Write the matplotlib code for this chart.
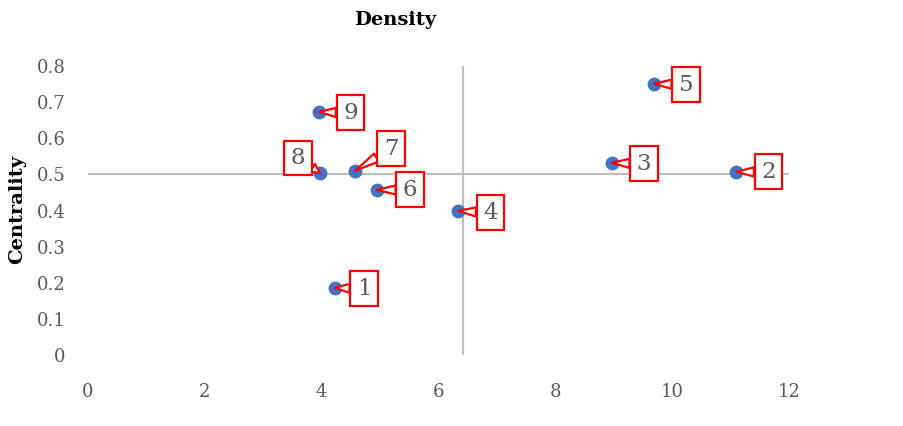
import numpy as np
import matplotlib
matplotlib.use("Agg")
import matplotlib.pyplot as plt

# valeurs
labels = ["1", "2", "3", "4", "5", "6", "7", "8", "9"]
density = [4.23, 11.10, 8.97, 6.34, 9.69, 4.95, 4.57, 3.97, 3.96]
centrality = [0.186, 0.507, 0.532, 0.399, 0.751, 0.457, 0.510, 0.504, 0.673]

# decalage des bulles (pixels, vers la droite / vers le haut)
label_offsets = [(29, -1), (32, 0), (32, -1), (32, -2), (32, -1),
                 (33, 0), (36, 22), (-22, 15), (31, -1)]

GRAY = "#595959"
AXIS = "#BFBFBF"
FONT = "DejaVu Serif"

plt.rcParams['font.family'] = FONT

fig = plt.figure(figsize=(9.04, 4.26), dpi=100)
ax = fig.add_axes([88 / 904, 71 / 426, 701 / 904, 289 / 426])
ax.set_xlim(0, 12)
ax.set_ylim(0, 0.8)

# axes croisees a la moyenne (comme dans Excel)
cx = np.mean(density)
cy = np.mean(centrality)
ax.axhline(cy, color=AXIS, lw=1.5, zorder=0)
ax.axvline(cx, color=AXIS, lw=1.5, zorder=0)

ax.scatter(density, centrality, s=80, color="#4472C4", zorder=2)

for lab, x, y, (dx, dy) in zip(labels, density, centrality, label_offsets):
    ax.annotate(lab, xy=(x, y), xytext=(dx, dy), textcoords="offset pixels",
                ha="center", va="center", fontsize=16.5, color=GRAY,
                bbox=dict(boxstyle="square,pad=0.28", fc="white", ec="red", lw=1.6),
                arrowprops=dict(arrowstyle="wedge,tail_width=0.4", fc="white",
                                ec="red", lw=1.6, shrinkA=0, shrinkB=0),
                zorder=3)

for s in ax.spines.values():
    s.set_visible(False)
ax.set_xticks(np.arange(0, 13, 2))
ax.set_yticks(np.arange(0, 0.81, 0.1))
ax.set_xticklabels([str(v) for v in range(0, 13, 2)])
ax.set_yticklabels(["0"] + ["%.1f" % v for v in np.arange(0.1, 0.81, 0.1)])
ax.tick_params(length=0, labelsize=13, labelcolor=GRAY)
ax.tick_params(axis="x", pad=20)
ax.tick_params(axis="y", pad=16)

fig.text(395 / 904, 1 - 20 / 426, "Density", ha="center", va="center",
         fontsize=14, fontweight="bold", color="black")
fig.text(17 / 904, 1 - 209 / 426, "Centrality", ha="center", va="center",
         rotation=90, fontsize=14, fontweight="bold", color="black")

fig.savefig("out.png", dpi=100)
